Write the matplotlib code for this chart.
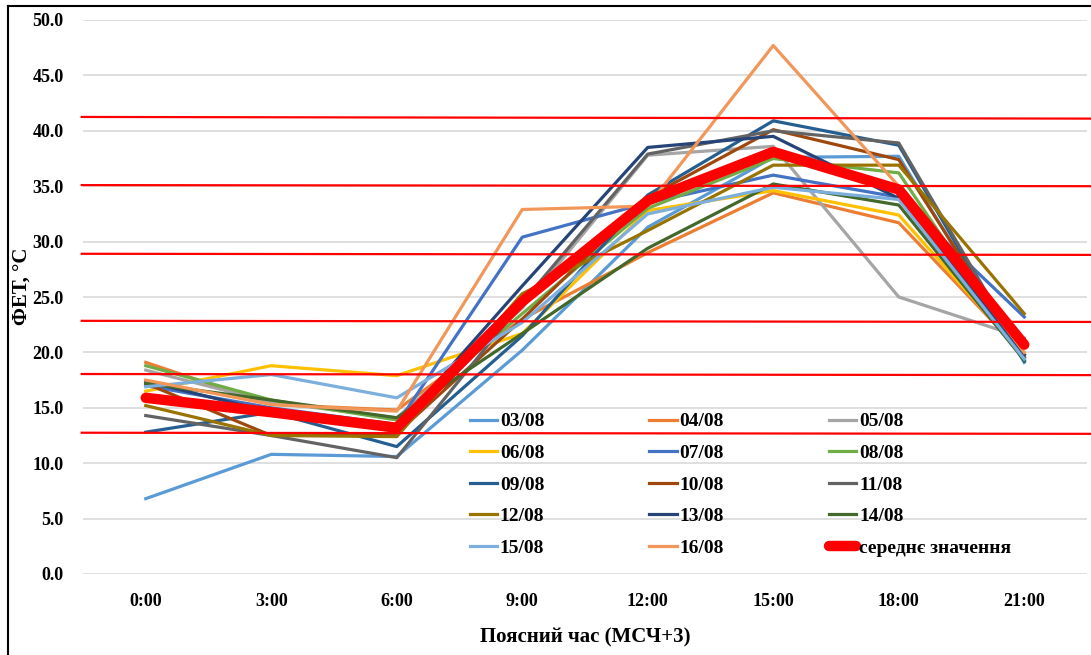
import numpy as np
import matplotlib
matplotlib.use("Agg")
import matplotlib.pyplot as plt
from matplotlib.lines import Line2D

times = ['0:00', '3:00', '6:00', '9:00', '12:00', '15:00', '18:00', '21:00']

labels = ['03/08', '04/08', '05/08', '06/08', '07/08', '08/08', '09/08',
          '10/08', '11/08', '12/08', '13/08', '14/08', '15/08', '16/08']

d0308 = [6.8, 10.8, 10.6, 20.2, 31.3, 37.6, 37.7, 19.1]
d0408 = [19.1, 15.3, 14.8, 23.0, 29.0, 34.4, 31.7, 19.8]
d0508 = [18.4, 15.5, 14.1, 24.0, 37.8, 38.6, 25.0, 21.3]
d0608 = [16.5, 18.8, 17.9, 21.7, 32.8, 34.6, 32.4, 19.7]
d0708 = [17.0, 15.0, 13.5, 30.4, 33.5, 36.0, 34.0, 23.2]
d0808 = [18.8, 15.7, 13.9, 23.5, 33.0, 37.5, 36.2, 19.5]
d0908 = [12.8, 14.6, 11.5, 21.5, 34.2, 40.9, 38.7, 19.2]
d1008 = [17.2, 12.5, 12.7, 23.0, 34.0, 40.1, 37.4, 19.6]
d1108 = [14.3, 12.5, 10.5, 24.5, 37.9, 40.0, 38.9, 19.6]
d1208 = [15.2, 12.5, 12.4, 25.3, 31.0, 36.9, 36.9, 23.5]
d1308 = [17.4, 14.6, 13.2, 26.0, 38.5, 39.5, 33.9, 19.8]
d1408 = [17.2, 15.7, 14.1, 21.7, 29.4, 35.2, 33.3, 19.3]
d1508 = [16.9, 18.0, 15.9, 22.7, 32.5, 34.9, 33.8, 19.4]
d1608 = [17.5, 15.3, 14.7, 32.9, 33.2, 47.7, 35.0, 20.0]
mean = [15.9, 14.6, 13.2, 24.6, 33.7, 38.1, 34.7, 20.7]

# red reference lines (slightly tilted, left / right value)
band_left = [41.25, 35.1, 28.9, 22.85, 18.05, 12.75]
band_right = [41.1, 35.0, 28.8, 22.75, 17.95, 12.65]

series = [d0308, d0408, d0508, d0608, d0708, d0808, d0908,
          d1008, d1108, d1208, d1308, d1408, d1508, d1608]
colors = ['#5B9BD5', '#ED7D31', '#A5A5A5', '#FFC000', '#4472C4', '#70AD47',
          '#255E91', '#9E480E', '#636363', '#997300', '#264478', '#43682B',
          '#7CAFDD', '#F1975A']

plt.rcParams['font.family'] = ['Liberation Serif', 'DejaVu Serif']
plt.rcParams['font.weight'] = 'bold'

fig = plt.figure(figsize=(10.91, 6.55), dpi=100)
ax = fig.add_axes([83 / 1091, 1 - 574 / 655, 1004 / 1091, 554 / 655])

x = np.arange(len(times))
handles = []
for vals, lab, c in zip(series, labels, colors):
    h, = ax.plot(x, vals, color=c, lw=2.3, label=lab, zorder=3)
    handles.append(h)
hm, = ax.plot(x, mean, color='#FF0000', lw=7.5, solid_capstyle='round',
              solid_joinstyle='round', label='середнє значення', zorder=4)
handles.append(hm)

for yl, yr in zip(band_left, band_right):
    ax.plot([-0.51, 7.535], [yl, yr], color='#FF0000', lw=1.6, zorder=5,
            clip_on=False)

ax.set_xlim(-0.5, 7.5)
ax.set_ylim(0, 50)
ax.set_yticks(np.arange(0, 50.1, 5))
ax.set_yticklabels([f'{v:.1f}' for v in np.arange(0, 50.1, 5)])
ax.set_xticks(x)
ax.set_xticklabels(times)
ax.grid(axis='y', color='#D9D9D9', lw=1.2, zorder=0)
ax.tick_params(length=0, labelsize=13, pad=14)
for lbl in ax.get_xticklabels() + ax.get_yticklabels():
    lbl.set_fontweight('bold')
for s in ax.spines.values():
    s.set_visible(False)

ax.set_ylabel('ФЕТ, °C', fontsize=15, fontweight='bold')
ax.yaxis.set_label_coords(-0.051, 0.52)
ax.set_xlabel('Поясний час (МСЧ+3)', fontsize=15, fontweight='bold', labelpad=12)

# legend filled row by row
order = [0, 3, 6, 9, 12, 1, 4, 7, 10, 13, 2, 5, 8, 11, 14]
leg = ax.legend([handles[i] for i in order],
                [handles[i].get_label() for i in order],
                ncol=3, loc='upper left',
                bbox_to_anchor=(462 / 1091, 1 - 405 / 655),
                bbox_transform=fig.transFigure, frameon=False,
                prop={'size': 14, 'weight': 'bold'},
                handlelength=1.4, handletextpad=0.15, columnspacing=5.4,
                labelspacing=0.72, borderaxespad=0)

# chart area border
fig.add_artist(Line2D([8 / 1091, 8 / 1091], [0, 1 - 6 / 655], color='black', lw=1.5))
fig.add_artist(Line2D([8 / 1091, 1], [1 - 6 / 655, 1 - 6 / 655], color='black', lw=1.5))

fig.savefig('out.png', dpi=100)
